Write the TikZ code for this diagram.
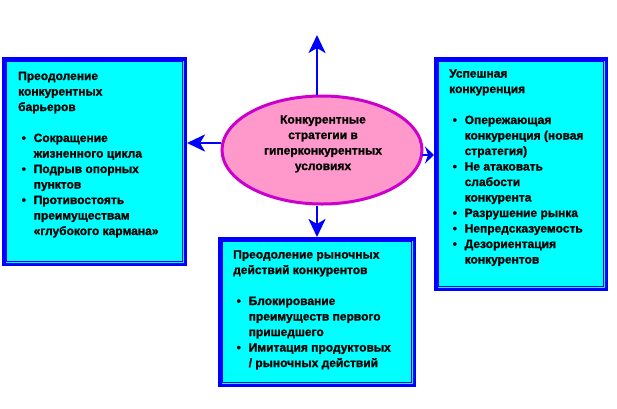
\documentclass[tikz,border=0pt]{standalone}
\usepackage{fontspec}
\setmainfont{Liberation Sans}[BoldFeatures={FakeBold=1.2}]
\usetikzlibrary{arrows.meta,shapes.geometric}
\definecolor{bxcyan}{HTML}{00FFFF}
\definecolor{bxblue}{HTML}{0000FF}
\definecolor{elfill}{HTML}{FF99CC}
\definecolor{elline}{HTML}{CC00CC}
\newcommand{\bul}{\hspace*{3.5pt}\makebox[12pt][l]{•}}
\newcommand{\ind}{\hspace*{15.5pt}}
\begin{document}
\begin{tikzpicture}[x=1pt,y=-1pt,
 boxst/.style={draw=bxblue, fill=bxcyan, line width=3.5pt, inner sep=0pt},
 inln/.style={draw=bxblue, line width=1.2pt},
 txt/.style={anchor=base west, inner sep=0pt, align=left, font=\bfseries\fontsize{12}{15.5}\selectfont},
 arr/.style={draw=bxblue, line width=2.8pt, -{Stealth[length=18pt,width=17pt,inset=5pt]}},
 sarr/.style={draw=bxblue, line width=2.8pt, -{Stealth[length=9pt,width=17pt,inset=3pt]}}]
\useasboundingbox (0,0) rectangle (617,408);
% boxes
\node[boxst, minimum width=181.5pt, minimum height=205.5pt] (lb) at (94.5,161.5) {};
\node[boxst, minimum width=170.5pt, minimum height=230.5pt] (rb) at (521,174) {};
\node[boxst, minimum width=194.5pt, minimum height=146.5pt] (bb) at (317,312) {};
\foreach \b in {lb,rb,bb}
  \draw[inln] ([xshift=4.5pt,yshift=-4.5pt]\b.north west) rectangle ([xshift=-4.5pt,yshift=4.5pt]\b.south east);
% ellipse
\node[ellipse, draw=elline, fill=elfill, line width=3pt, minimum width=200pt, minimum height=108pt, inner sep=0pt] (el) at (322,150) {};
% arrows
\coordinate (tu) at (317,35);
\coordinate (td) at (317,0);
\coordinate (la) at (0,143);
\coordinate (ra) at (0,155);
\draw[arr] (tu |- el.north) -- (tu);
\draw[arr] (el.south -| td) -- (bb.north -| td);
\draw[arr] (el.west |- la) -- (lb.east |- la);
\draw[sarr] ([xshift=-2pt]el.east |- ra) -- (rb.west |- ra);
% texts (anchored at the baseline of their last line)
\node[txt, align=center, anchor=base] (et) at (323,170) {Конкурентные\\ стратегии в\\ гиперконкурентных\\ условиях};
\node[txt] (lt) at (18,235) {Преодоление\\ конкурентных\\ барьеров\\[15.5pt]
\bul Сокращение\\ \ind жизненного цикла\\ \bul Подрыв опорных\\ \ind пунктов\\ \bul Противостоять\\ \ind преимуществам\\ \ind «глубокого кармана»};
\node[txt] (rt) at (449,263.5) {Успешная\\ конкуренция\\[15.5pt]
\bul Опережающая\\ \ind конкуренция (новая\\ \ind стратегия)\\ \bul Не атаковать\\ \ind слабости\\ \ind конкурента\\ \bul Разрушение рынка\\ \bul Непредсказуемость\\ \bul Дезориентация\\ \ind конкурентов};
\node[txt] (bt) at (233,367) {Преодоление рыночных\\ действий конкурентов\\[15.5pt]
\bul Блокирование\\ \ind преимуществ первого\\ \ind пришедшего\\ \bul Имитация продуктовых\\ \ind / рыночных действий};
\end{tikzpicture}
\end{document}
